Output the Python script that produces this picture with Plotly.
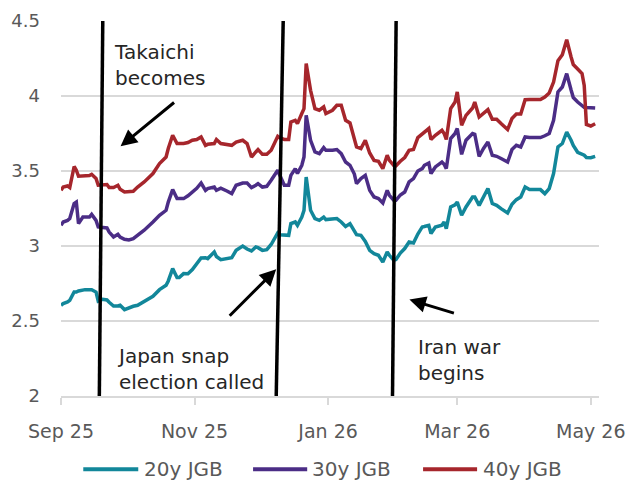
import datetime as dt
import plotly.graph_objects as go

START = dt.date(2025, 9, 1)

# day offsets from 1 Sep 2025 of each observation
day_offsets = [
    0, 1, 3, 4, 6, 7, 8, 10, 11, 13,
    14, 16, 17, 19, 21, 22, 24, 26, 27, 29,
    31, 33, 35, 38, 42, 45, 48, 49, 51, 53,
    54, 56, 58, 60, 62, 64, 66, 67, 70, 71,
    73, 76, 78, 80, 83, 85, 87, 89, 90, 92,
    94, 96, 99, 100, 102, 104, 105, 107, 108, 110,
    111, 112, 114, 116, 118, 120, 121, 124, 126, 128,
    130, 132, 134, 135, 137, 139, 141, 143, 145, 147,
    149, 150, 152, 153, 155, 157, 159, 161, 163, 165,
    166, 168, 169, 171, 174, 175, 176, 178, 180, 181,
    183, 185, 188, 189, 191, 193, 195, 197, 199, 201,
    204, 206, 208, 210, 212, 214, 219, 221, 223, 225,
    227, 229, 230, 231, 233, 234, 236, 238, 239, 240,
    242, 244,
]

jgb_40y = [
    3.371, 3.393, 3.40, 3.39, 3.53, 3.505, 3.465, 3.465, 3.465, 3.47,
    3.478, 3.45, 3.405, 3.41, 3.41, 3.39, 3.39, 3.405, 3.378, 3.36,
    3.36, 3.365, 3.393, 3.427, 3.483, 3.55, 3.593, 3.65, 3.738, 3.683,
    3.683, 3.683, 3.69, 3.705, 3.71, 3.727, 3.671, 3.678, 3.683, 3.71,
    3.683, 3.675, 3.671, 3.693, 3.705, 3.683, 3.593, 3.627, 3.643, 3.611,
    3.611, 3.638, 3.731, 3.72, 3.71, 3.71, 3.827, 3.838, 3.816, 3.883,
    3.916, 4.216, 4.038, 3.916, 3.905, 3.927, 3.883, 3.905, 3.938, 3.938,
    3.838, 3.82, 3.72, 3.66, 3.65, 3.705, 3.62, 3.571, 3.565, 3.516,
    3.605, 3.571, 3.538, 3.535, 3.565, 3.59, 3.638, 3.643, 3.723, 3.75,
    3.76, 3.783, 3.71, 3.738, 3.771, 3.75, 3.71, 3.916, 3.96, 4.027,
    3.805, 3.871, 3.92, 3.96, 3.86, 3.883, 3.909, 3.845, 3.845, 3.816,
    3.776, 3.85, 3.88, 3.88, 3.975, 3.976, 3.976, 3.993, 4.02, 4.093,
    4.235, 4.275, 4.327, 4.375, 4.26, 4.21, 4.18, 4.15, 4.07, 3.81,
    3.80, 3.815,
]

jgb_30y = [
    3.138, 3.16, 3.171, 3.183, 3.283, 3.293, 3.149, 3.193, 3.193, 3.193,
    3.211, 3.171, 3.127, 3.125, 3.12, 3.093, 3.06, 3.078, 3.06, 3.045,
    3.04, 3.049, 3.071, 3.105, 3.16, 3.205, 3.238, 3.293, 3.376, 3.316,
    3.316, 3.316, 3.335, 3.36, 3.385, 3.42, 3.371, 3.383, 3.393, 3.371,
    3.385, 3.365, 3.349, 3.405, 3.42, 3.42, 3.389, 3.405, 3.416, 3.393,
    3.398, 3.438, 3.505, 3.47, 3.405, 3.405, 3.471, 3.516, 3.483, 3.538,
    3.593, 3.871, 3.705, 3.627, 3.616, 3.656, 3.638, 3.638, 3.643, 3.616,
    3.56, 3.538, 3.48, 3.416, 3.449, 3.471, 3.371, 3.327, 3.316, 3.287,
    3.371, 3.338, 3.305, 3.305, 3.34, 3.36, 3.427, 3.449, 3.50, 3.516,
    3.538, 3.553, 3.483, 3.527, 3.56, 3.545, 3.516, 3.716, 3.75, 3.783,
    3.611, 3.705, 3.75, 3.745, 3.598, 3.65, 3.693, 3.605, 3.598, 3.583,
    3.56, 3.643, 3.671, 3.66, 3.727, 3.723, 3.723, 3.735, 3.75, 3.838,
    4.027, 4.06, 4.105, 4.149, 4.04, 3.99, 3.96, 3.94, 3.925, 3.923,
    3.923, 3.92,
]

jgb_20y = [
    2.605, 2.616, 2.627, 2.638, 2.693, 2.693, 2.70, 2.709, 2.709, 2.709,
    2.709, 2.693, 2.633, 2.645, 2.64, 2.625, 2.60, 2.60, 2.605, 2.576,
    2.59, 2.598, 2.605, 2.633, 2.665, 2.709, 2.738, 2.767, 2.849, 2.79,
    2.79, 2.816, 2.815, 2.843, 2.883, 2.92, 2.922, 2.916, 2.96, 2.93,
    2.909, 2.916, 2.922, 2.971, 3.0, 2.98, 2.967, 2.993, 2.989, 2.971,
    2.976, 3.01, 3.087, 3.075, 3.071, 3.071, 3.149, 3.16, 3.138, 3.193,
    3.238, 3.46, 3.238, 3.183, 3.171, 3.193, 3.176, 3.183, 3.183, 3.16,
    3.13, 3.149, 3.105, 3.075, 3.071, 3.03, 2.971, 2.949, 2.938, 2.893,
    2.96, 2.938, 2.905, 2.91, 2.953, 2.983, 3.027, 3.02, 3.08, 3.127,
    3.13, 3.138, 3.083, 3.127, 3.138, 3.16, 3.116, 3.26, 3.275, 3.293,
    3.205, 3.26, 3.327, 3.327, 3.271, 3.327, 3.383, 3.283, 3.271, 3.249,
    3.22, 3.278, 3.309, 3.327, 3.393, 3.376, 3.376, 3.349, 3.383, 3.483,
    3.66, 3.683, 3.716, 3.76, 3.705, 3.67, 3.625, 3.611, 3.605, 3.59,
    3.589, 3.598,
]

series_names = ["20y JGB", "30y JGB", "40y JGB"]
series_colors = ["#12879a", "#4b2d86", "#a6262c"]

# event markers (slightly hand-drawn vertical lines): (top date, bottom date)
event_lines = [
    ("2025-09-20 02:00", "2025-09-18 12:00"),
    ("2025-12-11 12:00", "2025-12-08 07:00"),
    ("2026-02-01 02:00", "2026-01-30 10:00"),
]

dates = [START + dt.timedelta(days=d) for d in day_offsets]
values = [jgb_20y, jgb_30y, jgb_40y]

FONT = "DejaVu Sans"
fig = go.Figure()
for name, col, vals in zip(series_names, series_colors, values):
    fig.add_trace(go.Scatter(
        x=dates, y=vals, name=name, mode="lines",
        line=dict(color=col, width=3.5), showlegend=False,
    ))

for top, bottom in event_lines:
    fig.add_shape(type="line", xref="x", yref="y",
                  x0=top, y0=4.505, x1=bottom, y1=1.985,
                  line=dict(color="black", width=3.5))

# text annotations
text_font = dict(family=FONT, size=20, color="#262626")
notes = [
    ("Takaichi<br>becomes", 0.094, 0.882),
    ("Japan snap<br>election called", 0.101, 0.071),
    ("Iran war<br>begins", 0.660, 0.095),
]
for txt, xp, yp in notes:
    fig.add_annotation(text=txt, xref="paper", yref="paper", x=xp, y=yp,
                       xanchor="left", yanchor="middle", align="left",
                       showarrow=False, font=text_font)

arrows = [
    (0.1107, 0.6659, 55, -45),
    (0.400, 0.3379, -48, 48),
    (0.6476, 0.2571, 46, 14),
]
for xp, yp, ax, ay in arrows:
    fig.add_annotation(text="", xref="paper", yref="paper", x=xp, y=yp,
                       ax=ax, ay=ay, showarrow=True, arrowhead=2,
                       arrowsize=1.1, arrowwidth=3, arrowcolor="black",
                       standoff=0)

# custom legend
leg_y = -0.1955
leg_items = [(0.0414, 0.1436, 0.151), (0.357, 0.4576, 0.4628), (0.673, 0.7734, 0.7808)]
for (x0, x1, xt), name, col in zip(leg_items, series_names, series_colors):
    fig.add_shape(type="line", xref="paper", yref="paper", x0=x0, x1=x1,
                  y0=leg_y, y1=leg_y, line=dict(color=col, width=4))
    fig.add_annotation(text=name, xref="paper", yref="paper", x=xt, y=leg_y,
                       xanchor="left", yanchor="middle", showarrow=False,
                       font=dict(family=FONT, size=20, color="#595959"))

# the page body adds an 8px offset, so the figure is sized to fit inside it
fig.update_layout(
    width=626, height=473,
    margin=dict(l=53, r=35, t=13, b=85, autoexpand=False),
    paper_bgcolor="white", plot_bgcolor="white",
    font=dict(family=FONT, color="#595959"),
)
fig.update_xaxes(
    type="date", range=["2025-09-01", "2026-05-04 18:00"],
    tick0="2025-09-01", dtick="M2", tickformat="%b %y",
    showgrid=False, showline=True, linecolor="#d9d9d9", linewidth=2,
    ticks="outside", ticklen=7, tickwidth=2, tickcolor="#d9d9d9",
    tickfont=dict(family=FONT, size=19, color="#595959"),
    ticklabelstandoff=10, automargin=False,
)
fig.update_yaxes(
    range=[2, 4.5], dtick=0.5, showgrid=True, gridcolor="#d9d9d9",
    gridwidth=2, zeroline=False, showline=False, ticks="",
    tickfont=dict(family=FONT, size=18, color="#595959"),
    ticklabelstandoff=20, automargin=False,
)

fig.write_html("out.html")
